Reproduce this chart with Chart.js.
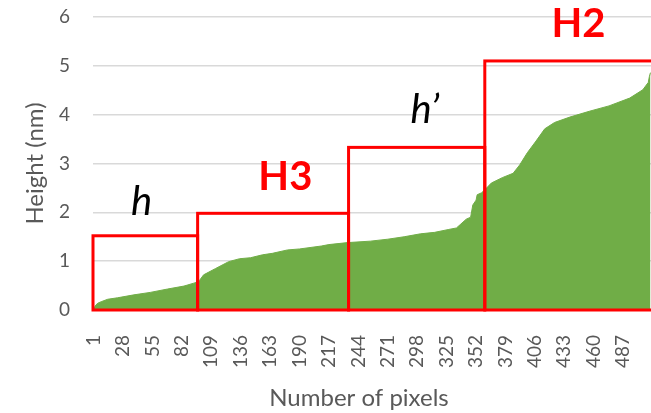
<!DOCTYPE html>
<html>
<head>
<meta charset="utf-8">
<script src="https://cdn.jsdelivr.net/npm/chart.js@4"></script>
<style>
  html, body { margin: 0; padding: 0; background: #fff; }
  #wrap { width: 651px; height: 413px; }
</style>
</head>
<body>
<div id="wrap"><canvas id="heightChart" width="651" height="413"></canvas></div>
<script>
// sorted pixel heights: pixel number -> height (nm)
const pixelIndex = [1, 3, 5, 8, 14, 23, 38, 53, 69, 84, 93, 96, 98, 102, 113, 125, 135, 145, 156, 165,
  179, 190, 210, 217, 234, 255, 271, 286, 301, 314, 327, 334, 338, 343, 347, 349, 352, 353, 357, 360,
  366, 376, 386, 392, 399, 407, 415, 424, 438, 456, 474, 493, 505, 510, 511, 512];
const heightNm = [0.02, 0.10, 0.14, 0.17, 0.22, 0.25, 0.31, 0.36, 0.43, 0.49, 0.55, 0.57, 0.60, 0.72, 0.85, 0.99, 1.05, 1.07, 1.13, 1.16,
  1.23, 1.25, 1.31, 1.34, 1.38, 1.41, 1.45, 1.50, 1.56, 1.59, 1.65, 1.68, 1.76, 1.86, 1.90, 2.15, 2.25, 2.36, 2.40, 2.46,
  2.60, 2.71, 2.80, 2.97, 3.22, 3.46, 3.71, 3.84, 3.95, 4.07, 4.18, 4.34, 4.51, 4.66, 4.78, 4.86];

const tickLabels = [1, 28, 55, 82, 109, 136, 163, 190, 217, 244, 271, 298, 325, 352, 379, 406, 433, 460, 487];

// height regions: name, last pixel, threshold height
const regionNames = ['h', 'H3', 'h\u2019', 'H2'];
const regionEnds = [96.5, 235, 360, 515];
const regionTops = [1.52, 1.98, 3.33, 5.10];

const FONT = 'Lato, "Open Sans", sans-serif';
const GREY = '#595959';

// red boxes + their labels, drawn over the area
const regionPlugin = {
  id: 'regions',
  afterDatasetsDraw(chart) {
    const { ctx, scales: { x, y } } = chart;
    const labelPos = [[45, 1.95], [177, 2.46], [305, 3.83], [446, 5.59]];
    ctx.save();
    ctx.strokeStyle = '#FF0000';
    ctx.lineWidth = 3;
    let start = x.min;
    regionEnds.forEach((end, i) => {
      const x0 = x.getPixelForValue(start);
      const x1 = x.getPixelForValue(end);
      const y0 = y.getPixelForValue(0);
      const y1 = y.getPixelForValue(regionTops[i]);
      ctx.strokeRect(x0, y1, x1 - x0, y0 - y1);
      start = end;
    });
    ctx.textAlign = 'center';
    ctx.textBaseline = 'alphabetic';
    regionNames.forEach((name, i) => {
      const upper = name.startsWith('H');
      ctx.font = upper ? 'bold 40px ' + FONT : 'italic 40px ' + FONT;
      ctx.fillStyle = upper ? '#FF0000' : '#000000';
      ctx.fillText(name, x.getPixelForValue(labelPos[i][0]), y.getPixelForValue(labelPos[i][1]));
    });
    // x axis title
    ctx.font = '24px ' + FONT;
    ctx.fillStyle = GREY;
    ctx.textBaseline = 'middle';
    ctx.fillText('Number of pixels', 359, 398);
    ctx.restore();
  }
};

new Chart(document.getElementById('heightChart').getContext('2d'), {
  type: 'line',
  data: {
    datasets: [{
      data: pixelIndex.map((p, i) => ({ x: p, y: heightNm[i] })),
      backgroundColor: '#70AD47',
      borderColor: '#70AD47',
      borderWidth: 1,
      pointRadius: 0,
      fill: 'origin',
      tension: 0
    }]
  },
  options: {
    responsive: false,
    animation: false,
    layout: { padding: { top: 17, right: 0, left: 0, bottom: 0 } },
    plugins: { legend: { display: false }, tooltip: { enabled: false } },
    scales: {
      x: {
        type: 'linear',
        min: 0.5,
        max: 512.5,
        afterBuildTicks: (scale) => { scale.ticks = tickLabels.map(v => ({ value: v })); },
        afterFit: (scale) => {
          scale.height = 103;
          scale.paddingLeft = 0;
          scale.paddingRight = 0;
        },
        grid: { display: false },
        border: { display: false },
        ticks: {
          autoSkip: false,
          minRotation: 90,
          maxRotation: 90,
          padding: 17,
          color: GREY,
          font: { family: FONT, size: 19 }
        }
      },
      y: {
        min: 0,
        max: 6,
        afterFit: (scale) => {
          scale.width = 93;
          scale.paddingTop = 0;
          scale.paddingBottom = 0;
        },
        grid: { color: '#D9D9D9', lineWidth: 1.5, drawTicks: false },
        border: { display: false },
        ticks: {
          stepSize: 1,
          padding: 23,
          color: GREY,
          font: { family: FONT, size: 19 }
        },
        title: {
          display: true,
          text: 'Height (nm)',
          color: GREY,
          font: { family: FONT, size: 24 },
          padding: { top: 21, bottom: 0 }
        }
      }
    }
  },
  plugins: [regionPlugin]
});
</script>
</body>
</html>
